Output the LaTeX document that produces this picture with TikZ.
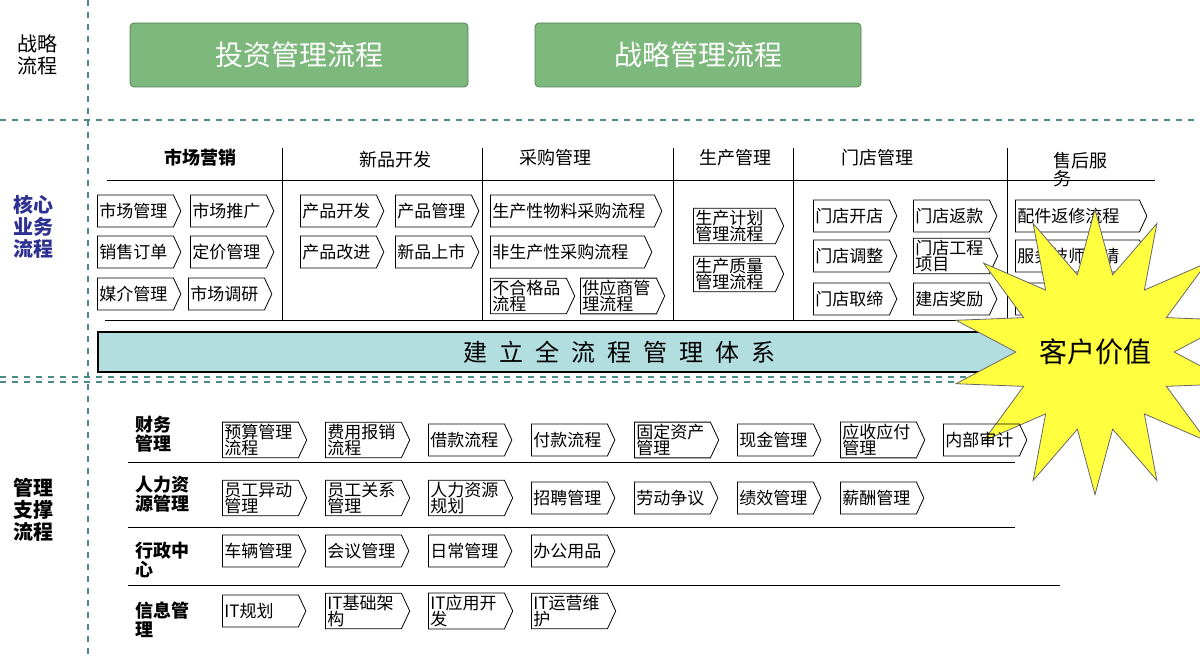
\documentclass[tikz,border=0pt]{standalone}
\usepackage{fontspec}
\setmainfont{Noto Sans CJK SC}
\usetikzlibrary{shapes.symbols,shapes.geometric}
\definecolor{linecol}{HTML}{4A8A88}
\definecolor{barcol}{HTML}{B2DEE0}
\definecolor{greencol}{HTML}{7DB87C}
\definecolor{bluecol}{HTML}{2E3192}
\definecolor{starcol}{HTML}{FFFF40}
\tikzset{
  proc/.style={signal, signal to=east, signal pointer angle=130, draw, thin,
    inner sep=1pt, minimum height=16pt, text width=#1, align=left, anchor=west,
    font=\fontsize{8.5}{8}\selectfont},
  proc/.default=36pt,
  head/.style={font=\fontsize{9}{9}\selectfont},
  side/.style={align=center, font=\fontsize{10}{11}\selectfont},
  rowlab/.style={align=left, anchor=west, font=\fontsize{9}{9.5}\selectfont\bfseries},
  sep/.style={dashed, linecol, thick},
  bigbox/.style={draw=greencol!70!black, fill=greencol, rounded corners=2pt,
    text=white, font=\fontsize{14}{14}\selectfont},
}
\begin{document}
\begin{tikzpicture}[x=0.5pt,y=-0.5pt]
  \useasboundingbox (0,0) rectangle (1200,656);
  % separators
  \draw[sep] (88,0) -- (88,656);
  \draw[sep] (0,120) -- (1200,120);
  \draw[sep] (0,377) -- (1200,377);
  \draw[sep] (0,382) -- (1200,382);

  % strategy
  \node[side] (s) at (38,55) {战略\\流程};
  \node[bigbox, minimum width=169pt, minimum height=32pt] (inv) at (299,55) {投资管理流程};
  \node[bigbox, minimum width=163pt, minimum height=32pt] (str) at (698,55) {战略管理流程};

  % core business
  \node[side, text=bluecol, font=\fontsize{10}{11}\selectfont\bfseries] (c) at (33,227) {核心\\业务\\流程};
  \node[head, font=\fontsize{9}{9}\selectfont\bfseries] (h1) at (200,158) {市场营销};
  \node[head] (h2) at (395,160) {新品开发};
  \node[head] (h3) at (555,158) {采购管理};
  \node[head] (h4) at (735,158) {生产管理};
  \node[head] (h5) at (877,158) {门店管理};
  \node[head, align=left, font=\fontsize{9}{9}\selectfont] (h6) at (1080,170) {售后服\\务};
  \draw (107,180) -- (1155,180);
  \draw (105,320) -- (1010,320);
  \foreach \x in {282,482,673,793,1007}
    \draw (\x,148) -- (\x,320);

  \node[proc] (m1) at (97,211) {市场管理};
  \node[proc] (m2) at (190,211) {市场推广};
  \node[proc] (m3) at (97,252) {销售订单};
  \node[proc] (m4) at (190,252) {定价管理};
  \node[proc] (m5) at (97,294) {媒介管理};
  \node[proc] (m6) at (188,294) {市场调研};
  \node[proc] (n1) at (300,211) {产品开发};
  \node[proc] (n2) at (395,211) {产品管理};
  \node[proc] (n3) at (300,252) {产品改进};
  \node[proc] (n4) at (395,252) {新品上市};
  \node[proc=80pt] (p1) at (490,211) {生产性物料采购流程};
  \node[proc=75pt] (p2) at (490,252) {非生产性采购流程};
  \node[proc] (p3) at (490,296) {不合格品\\流程};
  \node[proc] (p4) at (580,296) {供应商管\\理流程};
  \node[proc=39pt] (q1) at (693,226) {生产计划\\管理流程};
  \node[proc=39pt] (q2) at (693,274) {生产质量\\管理流程};
  \node[proc] (d1) at (813,216) {门店开店};
  \node[proc] (d2) at (913,216) {门店返款};
  \node[proc] (d3) at (813,256) {门店调整};
  \node[proc] (d4) at (913,256) {门店工程\\项目};
  \node[proc] (d5) at (813,299) {门店取缔};
  \node[proc] (d6) at (913,299) {建店奖励};
  \node[proc=60pt] (a1) at (1015,216) {配件返修流程};
  \node[proc=60pt] (a2) at (1015,256) {服务技师申请};
  \node[proc=60pt] (a3) at (1015,299) {售后配件申请};

  \node[draw, thick, fill=barcol, minimum width=521pt, minimum height=20pt,
    font=\fontsize{12}{12}\selectfont] (bar) at (619,352)
    {建\,\,\,立\,\,\,全\,\,\,流\,\,\,程\,\,\,管\,\,\,理\,\,\,体\,\,\,系};
  \node[star, star points=14, star point ratio=1.8, draw=black!60, fill=starcol,
    minimum size=78pt, inner sep=0pt, font=\fontsize{14}{14}\selectfont] (cv) at (1095,352) {客户价值};

  % support
  \node[side, font=\fontsize{10}{11}\selectfont\bfseries] (m) at (33,510) {管理\\支撑\\流程};
  \node[rowlab] (r1) at (128,434) {财务\\管理};
  \node[rowlab] (r2) at (128,494) {人力资\\源管理};
  \node[rowlab] (r3) at (128,560) {行政中\\心};
  \node[rowlab] (r4) at (128,620) {信息管\\理};
  \draw (128,462) -- (1015,462);
  \draw (128,527) -- (1015,527);
  \draw (128,585) -- (1060,585);

  \node[proc] (f1) at (222,440) {预算管理\\流程};
  \node[proc] (f2) at (325,440) {费用报销\\流程};
  \node[proc] (f3) at (428,440) {借款流程};
  \node[proc] (f4) at (531,440) {付款流程};
  \node[proc] (f5) at (634,440) {固定资产\\管理};
  \node[proc] (f6) at (737,440) {现金管理};
  \node[proc] (f7) at (840,440) {应收应付\\管理};
  \node[proc] (f8) at (943,440) {内部审计};
  \node[proc] (h1) at (222,498) {员工异动\\管理};
  \node[proc] (h2) at (325,498) {员工关系\\管理};
  \node[proc] (h3) at (428,498) {人力资源\\规划};
  \node[proc] (h4) at (531,498) {招聘管理};
  \node[proc] (h5) at (634,498) {劳动争议};
  \node[proc] (h6) at (737,498) {绩效管理};
  \node[proc] (h7) at (840,498) {薪酬管理};
  \node[proc] (x1) at (222,551) {车辆管理};
  \node[proc] (x2) at (325,551) {会议管理};
  \node[proc] (x3) at (428,551) {日常管理};
  \node[proc] (x4) at (531,551) {办公用品};
  \node[proc] (i1) at (222,611) {IT规划};
  \node[proc] (i2) at (325,611) {IT基础架\\构};
  \node[proc] (i3) at (428,611) {IT应用开\\发};
  \node[proc] (i4) at (531,611) {IT运营维\\护};
\end{tikzpicture}
\end{document}
